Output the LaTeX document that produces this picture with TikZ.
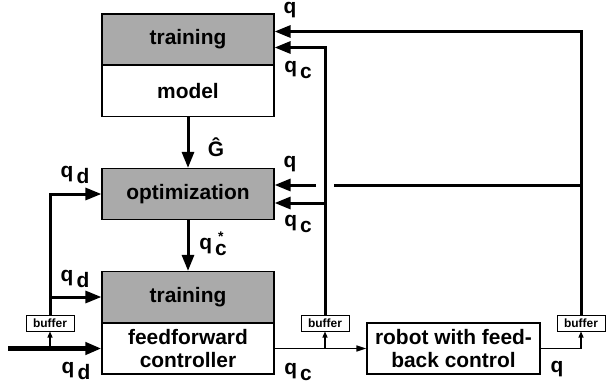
\documentclass[tikz,border=0pt]{standalone}
\usepackage{fontspec}
\setmainfont{Liberation Sans}
\usetikzlibrary{arrows.meta}
\definecolor{boxgray}{RGB}{170,170,170}
\newcommand{\lowsub}[1]{\hspace{3bp}\raisebox{-6bp}{#1}}
\tikzset{
  blk/.style={draw, line width=1.2bp, minimum width=172bp, minimum height=51bp,
    inner sep=0pt, align=center, font=\bfseries\fontsize{21}{24}\selectfont},
  grayblk/.style={blk, fill=boxgray},
  bufbox/.style={draw, fill=white, line width=1bp, minimum width=48bp, minimum height=16bp,
    inner sep=0pt, font=\bfseries\fontsize{12}{12}\selectfont},
  lbl/.style={inner sep=0pt, font=\bfseries\fontsize{21}{24}\selectfont},
  sig/.style={line width=3bp, -{Triangle[length=16bp,width=12bp]}},
  sigline/.style={line width=3bp},
  thinsig/.style={line width=1.5bp, -{Triangle[length=10bp,width=6bp]}},
  tinysig/.style={line width=1.2bp, -{Triangle[length=6bp,width=5bp]}},
}
\begin{document}
\begin{tikzpicture}[x=1bp,y=1bp,line join=miter]
  \useasboundingbox (0,0) rectangle (606,390);
%%
  % Node: train1
  \node[grayblk] (train1) at (188,350.5) {training};
  % Node: model
  \node[blk] (model) at (188,299) {model};
  % Node: opt
  \node[grayblk] (opt) at (188,196) {optimization};
  % Node: train2
  \node[grayblk] (train2) at (188,93) {training};
  % Node: ffc
  \node[blk] (ffc) at (188,41.5) {feedforward\\controller};
  % Node: robot
  \node[blk, minimum width=173bp] (robot) at (453.5,41.5) {robot with feed-\\back control};
  % Node: buffers
  \node[bufbox] (bufL) at (50,67) {buffer};
  \node[bufbox] (bufM) at (325,67) {buffer};
  \node[bufbox] (bufR) at (581,67) {buffer};
  % Labels
  \node[lbl] (lq1) at (290,379.5) {q};
  \node[lbl] (lqc1) at (298,320) {q\lowsub{c}};
  \node[lbl] (lG) at (216,243) {Ĝ};
  \node[lbl] (lq2) at (290,226) {q};
  \node[lbl] (lqd1) at (75,215) {q\lowsub{d}};
  \node[lbl] (lqc2) at (298,166) {q\lowsub{c}};
  \node[lbl] (lqcs) at (213,146) {q\hspace{3bp}\raisebox{-6bp}{\shortstack[l]{\hspace{3bp}\fontsize{14}{10}\selectfont *\\c}}};
  \node[lbl] (lqd2) at (75,111) {q\lowsub{d}};
  \node[lbl] (lqd3) at (76,19) {q\lowsub{d}};
  \node[lbl] (lqc3) at (298,18) {q\lowsub{c}};
  \node[lbl] (lq3) at (557,21) {q};
%%
  \coordinate (qdin) at (8,41.5);
  \coordinate (qopt) at ([yshift=9bp]opt.east);
  \coordinate (qcopt) at ([yshift=-9bp]opt.east);
  \path (bufM.north |- qopt) ++(9bp,0) coordinate (gapR) ++(-18bp,0) coordinate (gapL);
  % Edge: model -> opt
  \draw[sig] (model.south) -- (opt.north);
  % Edge: opt -> train2
  \draw[sig] (opt.south) -- (train2.north);
  % Edge: input -> ffc
  \draw[sig, line width=5bp] (qdin) -- (ffc.west);
  % Edge: input -> bufL
  \draw[tinysig] (qdin -| bufL.south) -- (bufL.south);
  % Edge: bufL -> opt, train2
  \draw[sig] (bufL.north) |- (opt.west);
  \draw[sig] (bufL.north |- train2.west) -- (train2.west);
  % Edge: ffc -> robot
  \draw[thinsig] (ffc.east) -- (robot.west);
  \draw[tinysig] (ffc.east -| bufM.south) -- (bufM.south);
  % Edge: robot -> bufR
  \draw[tinysig] (robot.east) -| (bufR.south);
  % Edge: bufM -> train1, opt
  \draw[sig] (bufM.north) |- ([yshift=-8bp]train1.east);
  \draw[sig] (bufM.north |- qcopt) -- (qcopt);
  % Edge: bufR -> train1, opt
  \draw[sig] (bufR.north) |- ([yshift=8bp]train1.east);
  \draw[sigline] (bufR.north |- qopt) -- (gapR);
  \draw[sig] (gapL) -- (qopt);
%
\end{tikzpicture}
\end{document}
